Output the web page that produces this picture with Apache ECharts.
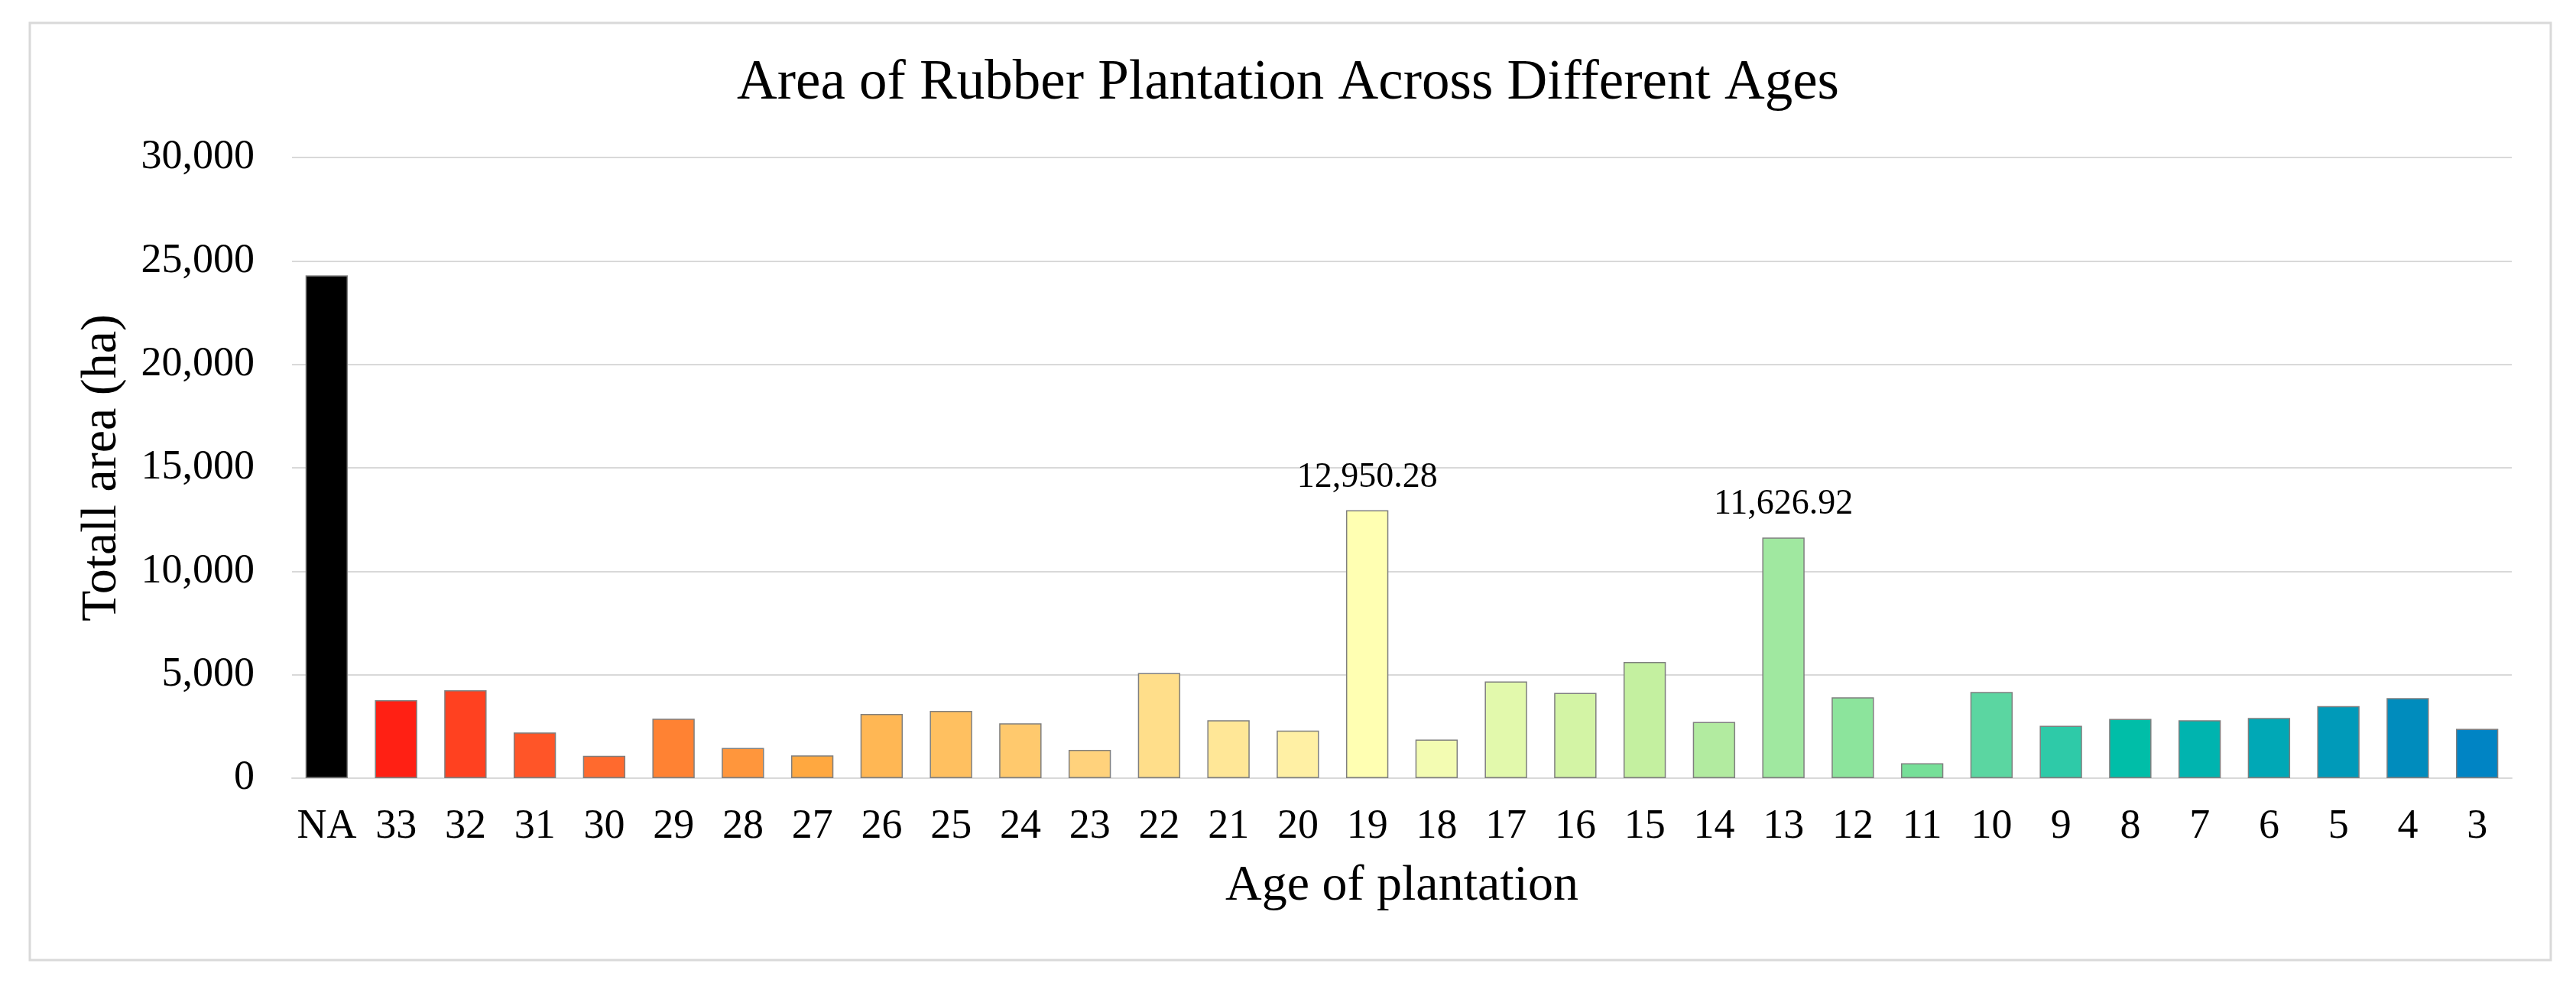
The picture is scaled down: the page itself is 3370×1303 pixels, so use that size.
<!DOCTYPE html>
<html>
<head>
<meta charset="utf-8">
<script src="https://cdn.jsdelivr.net/npm/echarts@6/dist/echarts.min.js"></script>
<style>
html,body{margin:0;padding:0;background:#fff;}
#chart{width:3370px;height:1303px;}
</style>
</head>
<body>
<div id="chart"></div>
<script>
const categories = ['NA','33','32','31','30','29','28','27','26','25','24','23','22','21','20','19','18','17','16','15','14','13','12','11','10','9','8','7','6','5','4','3'];
const areaValues = [24300,3770,4250,2210,1080,2870,1460,1100,3100,3250,2650,1370,5080,2800,2300,12950.28,1870,4670,4120,5620,2720,11626.92,3910,720,4170,2530,2860,2800,2910,3480,3870,2380];
const barColors = ['#000000','#ff2014','#ff4120','#ff5528','#ff6a2e','#ff8233','#ff963c','#ffa840','#ffb754','#ffc060','#ffc96d','#ffd27c','#ffde8a','#ffe797','#fff0a4','#ffffb2','#f3fcb2','#e2f9ac','#d3f4a5','#c4f0a0','#b2eba0','#a0e8a0','#8ce49c','#76df98','#5bd6a1','#2ecaa8','#00bea8','#00b4af','#00a8b6','#009ab9','#008cbd','#0084c4'];
const labelledCategories = ['19','13'];
const yTicks = [0,5000,10000,15000,20000,25000,30000];

const serif = '"Liberation Serif","Times New Roman",serif';
const fmt = v => v.toLocaleString('en-US', {minimumFractionDigits: 2, maximumFractionDigits: 2});

const chart = echarts.init(document.getElementById('chart'));
chart.setOption({
  animation: false,
  backgroundColor: '#ffffff',
  graphic: [{
    type: 'rect',
    shape: {x: 39, y: 30, width: 3298, height: 1226},
    style: {fill: 'none', stroke: '#d9d9d9', lineWidth: 3},
    silent: true
  }],
  title: {
    text: 'Area of Rubber Plantation Across Different Ages',
    left: 'center',
    top: 68,
    textStyle: {fontFamily: serif, fontSize: 73, fontWeight: 'normal', color: '#000'}
  },
  grid: {left: 382, right: 84, top: 206, bottom: 285},
  xAxis: {
    type: 'category',
    data: categories,
    name: 'Age of plantation',
    nameLocation: 'middle',
    nameGap: 109,
    nameTextStyle: {fontFamily: serif, fontSize: 66, color: '#000'},
    axisLine: {lineStyle: {color: '#d9d9d9', width: 2}},
    axisTick: {show: false},
    axisLabel: {fontFamily: serif, fontSize: 54, color: '#000', margin: 37, interval: 0}
  },
  yAxis: {
    type: 'value',
    min: yTicks[0],
    max: yTicks[yTicks.length - 1],
    interval: yTicks[1] - yTicks[0],
    name: 'Totall area (ha)',
    nameLocation: 'middle',
    nameGap: 215,
    nameRotate: 90,
    nameTextStyle: {fontFamily: serif, fontSize: 66, color: '#000'},
    axisLine: {show: false},
    axisTick: {show: false},
    splitLine: {lineStyle: {color: '#d9d9d9', width: 2}},
    axisLabel: {
      fontFamily: serif, fontSize: 54, color: '#000', margin: 49,
      formatter: v => v.toLocaleString('en-US')
    }
  },
  series: [{
    type: 'bar',
    barCategoryGap: '39%',
    data: areaValues.map((v, i) => ({
      value: v,
      itemStyle: {color: barColors[i]},
      label: {show: labelledCategories.includes(categories[i])}
    })),
    itemStyle: {borderColor: '#7f7f7f', borderWidth: 1.5},
    label: {
      position: 'top',
      distance: 20,
      fontFamily: serif,
      fontSize: 46,
      color: '#000',
      formatter: p => fmt(p.value)
    }
  }]
});
</script>
</body>
</html>
